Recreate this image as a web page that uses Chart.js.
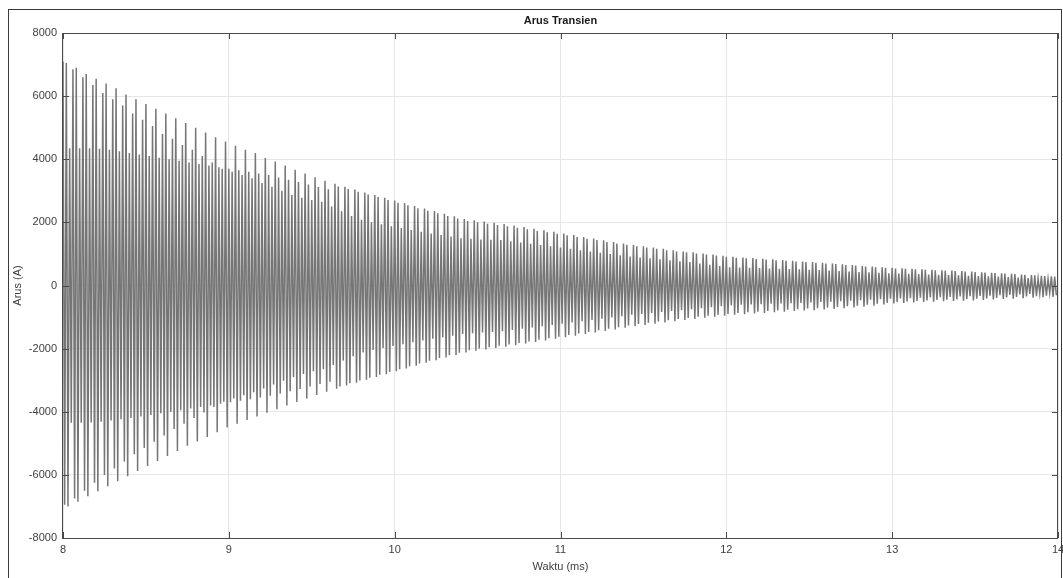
<!DOCTYPE html>
<html><head><meta charset="utf-8">
<script src="https://cdn.jsdelivr.net/npm/chart.js@4"></script>
<style>html,body{margin:0;padding:0;background:#fff;}#wrap{width:1063px;height:578px;}</style>
</head><body><div id="wrap"><canvas id="c" width="1063" height="578"></canvas></div>
<script>
// ---- axis / sampling description ----
const sampleStartMs = 8;      // first sample time (ms)
const sampleStepMs = 0.01;    // one peak or trough every 0.01 ms
const xTicks = [8, 9, 10, 11, 12, 13, 14];
const yTicks = [-8000, -6000, -4000, -2000, 0, 2000, 4000, 6000, 8000];
const chartTitle = 'Arus Transien';
const xTitle = 'Waktu (ms)';
const yTitle = 'Arus (A)';

// ---- values: one entry per 0.06 ms group (3 peaks + 3 troughs) ----
const peakA = [7100,6850,6600,6350,6100,5900,5700,5450,5250,5050,4800,4650,4450,4300,4100,3900,3700,
  3600,3500,3400,3250,3130,3000,2870,2780,2710,2650,
  2500,2350,2200,2080,2000,1940,1880,1820,1760,1700,1650,1600,1550,1500,1480,1460,1450,1440,1400,1360,1320,1280,1240,1200,1160,1120,1080,1040,1000,960,920,890,860,830,800,770,740,700,660,620,580,570,560,550,540,530,520,510,500,490,475,460,445,430,415,400,390,380,370,360,350,340,330,320,310,300,290,280,265,250,235,220,205];
const troughD = [-6950,-6750,-6500,-6250,-6000,-5800,-5580,-5350,-5150,-4950,-4750,-4550,-4380,-4200,-4020,-3850,-3680,
  -3580,-3480,-3380,-3260,-3140,-3020,-2900,-2800,-2720,-2650,
  -2520,-2380,-2240,-2120,-2040,-1980,-1920,-1860,-1800,-1740,-1690,-1640,-1590,-1540,-1510,-1490,-1470,-1450,-1410,-1370,-1330,-1290,-1250,-1210,-1170,-1130,-1090,-1050,-1010,-970,-930,-900,-870,-840,-810,-780,-750,-720,-690,-660,-630,-610,-600,-590,-580,-570,-560,-550,-540,-525,-510,-495,-480,-465,-450,-435,-420,-410,-400,-390,-380,-370,-360,-350,-340,-330,-320,-310,-295,-280,-265,-250,-240];
const peakB = [7050,6900,6700,6550,6400,6250,6050,5900,5750,5600,5450,5300,5150,5000,4850,4700,4560,
  4430,4300,4200,4040,3930,3800,3670,3550,3430,3320,3220,3130,3040,2950,2870,2780,2690,2610,2520,2440,2360,2270,2190,
  2110,2070,2030,1990,1950,1900,1850,1800,1750,1700,1650,1600,1540,1490,1430,1380,1330,1280,1240,1200,1160,1120,1080,1050,1010,980,940,910,890,870,850,830,810,780,760,740,720,700,670,650,620,600,580,560,545,530,515,500,485,470,455,440,420,405,390,370,350,330,310,290];
const troughE = [-7000,-6850,-6680,-6520,-6360,-6200,-6040,-5880,-5720,-5560,-5400,-5240,-5080,-4940,-4800,-4650,-4500,
  -4380,-4260,-4150,-4030,-3920,-3800,-3690,-3580,-3470,-3370,
  -3270,-3170,-3080,-2990,-2900,-2810,-2720,-2630,-2540,-2450,-2370,-2280,-2200,-2120,-2070,-2030,-1980,-1940,-1890,-1840,-1790,-1740,-1690,-1640,-1590,-1540,-1490,-1440,-1390,-1340,-1290,-1250,-1210,-1170,-1130,-1090,-1060,-1020,-990,-960,-930,-910,-890,-870,-850,-830,-810,-790,-780,-760,-740,-720,-700,-670,-640,-600,-570,-555,-540,-525,-510,-500,-490,-480,-470,-460,-445,-430,-415,-400,-385,-370,-360];
const peakC = [4350,4350,4350,4330,4300,4250,4200,4150,4100,4050,4000,3950,3900,3850,3800,3750,3700,
  3650,3600,3550,3500,3420,3350,3280,3200,3120,3050,
  3140,3060,2970,2880,2800,2710,2620,2540,2450,2370,2290,2200,2120,2040,2000,1960,1920,1880,1830,1780,1730,1690,1640,1590,1540,1480,1440,1380,1330,1290,1240,1200,1160,1120,1080,1050,1010,980,950,910,880,860,840,820,800,780,760,740,720,700,680,650,630,600,580,560,540,530,515,500,485,470,455,440,425,410,395,380,360,340,320,300,280];
const troughF = [-4350,-4350,-4340,-4320,-4280,-4240,-4200,-4150,-4100,-4050,-4000,-3950,-3900,-3850,-3800,-3750,-3700,
  -3650,-3600,-3550,-3490,-3420,-3350,-3280,-3200,-3120,-3050,
  -3200,-3100,-3010,-2920,-2830,-2740,-2650,-2560,-2470,-2380,-2300,-2210,-2130,-2050,-2000,-1960,-1910,-1870,-1820,-1770,-1720,-1670,-1620,-1570,-1520,-1470,-1420,-1370,-1320,-1270,-1220,-1180,-1140,-1100,-1060,-1030,-990,-960,-930,-900,-870,-850,-830,-810,-790,-770,-750,-730,-720,-700,-680,-660,-640,-610,-580,-550,-520,-505,-490,-475,-460,-450,-440,-430,-420,-410,-395,-380,-365,-350,-335,-320,-310];

// ---- build the sample sequence from the arrays ----
const groups = Math.min(peakA.length, troughD.length, peakB.length, troughE.length, peakC.length, troughF.length);
const points = [];
for (let g = 0; g < groups; g++) {
  const seq = [peakA[g], troughD[g], peakB[g], troughE[g], peakC[g], troughF[g]];
  seq.forEach((v, j) => points.push({x: sampleStartMs + (g * 6 + j) * sampleStepMs, y: v}));
}

const FONT = '"Liberation Sans", Arial, Helvetica, sans-serif';
const TXT = '#404040';

const decor = {
  id: 'decor',
  afterDraw(chart) {
    const {ctx, chartArea: a, scales: {x, y}} = chart;
    ctx.save();
    // outer figure frame
    ctx.strokeStyle = '#3a3a3a';
    ctx.lineWidth = 1;
    ctx.strokeRect(8.5, 9.5, 1053, 600);
    // axes box
    ctx.strokeStyle = '#4a4a4a';
    ctx.strokeRect(Math.round(a.left) - 0.5, Math.round(a.top) + 0.5, Math.round(a.right - a.left), Math.round(a.bottom - a.top));
    // inward ticks
    ctx.beginPath();
    xTicks.forEach(v => {
      const px = Math.round(x.getPixelForValue(v)) + 0.5;
      ctx.moveTo(px, a.bottom); ctx.lineTo(px, a.bottom - 6);
      ctx.moveTo(px, a.top); ctx.lineTo(px, a.top + 6);
    });
    yTicks.forEach(v => {
      const py = Math.round(y.getPixelForValue(v)) + 0.5;
      ctx.moveTo(a.left, py); ctx.lineTo(a.left + 6, py);
      ctx.moveTo(a.right, py); ctx.lineTo(a.right - 6, py);
    });
    ctx.stroke();
    // title
    ctx.fillStyle = '#1a1a1a';
    ctx.font = 'bold 11px ' + FONT;
    ctx.textAlign = 'center';
    ctx.textBaseline = 'middle';
    ctx.fillText(chartTitle, (a.left + a.right) / 2, 21);
    ctx.restore();
  }
};

new Chart(document.getElementById('c'), {
  type: 'line',
  data: {
    datasets: [{
      data: points,
      borderColor: '#767676',
      borderWidth: 1.5,
      pointRadius: 0,
      tension: 0,
      fill: false
    }]
  },
  options: {
    responsive: false,
    animation: false,
    parsing: false,
    normalized: true,
    layout: {padding: {top: 33, right: 5, left: 0, bottom: 0}},
    plugins: {legend: {display: false}, tooltip: {enabled: false}, title: {display: false}},
    scales: {
      x: {
        type: 'linear', min: 8, max: 14,
        afterBuildTicks: s => { s.ticks = xTicks.map(v => ({value: v})); },
        afterFit: s => { s.height = 40; s.paddingLeft = 0; s.paddingRight = 0; },
        grid: {color: '#e6e6e6', drawTicks: false},
        border: {display: false},
        ticks: {padding: 5, color: TXT, maxRotation: 0, font: {family: FONT, size: 11}},
        title: {display: true, text: xTitle, color: TXT, font: {family: FONT, size: 11}, padding: {top: 0, bottom: 4}}
      },
      y: {
        type: 'linear', min: -8000, max: 8000,
        afterBuildTicks: s => { s.ticks = yTicks.map(v => ({value: v})); },
        afterFit: s => { s.width = 63; s.paddingTop = 0; s.paddingBottom = 0; },
        grid: {color: '#e6e6e6', drawTicks: false},
        border: {display: false},
        ticks: {padding: 6, color: TXT, font: {family: FONT, size: 11}, callback: v => String(v)},
        title: {display: true, text: yTitle, color: TXT, font: {family: FONT, size: 11}, padding: {top: 11, bottom: 0}}
      }
    }
  },
  plugins: [decor]
});
</script>
</body></html>
